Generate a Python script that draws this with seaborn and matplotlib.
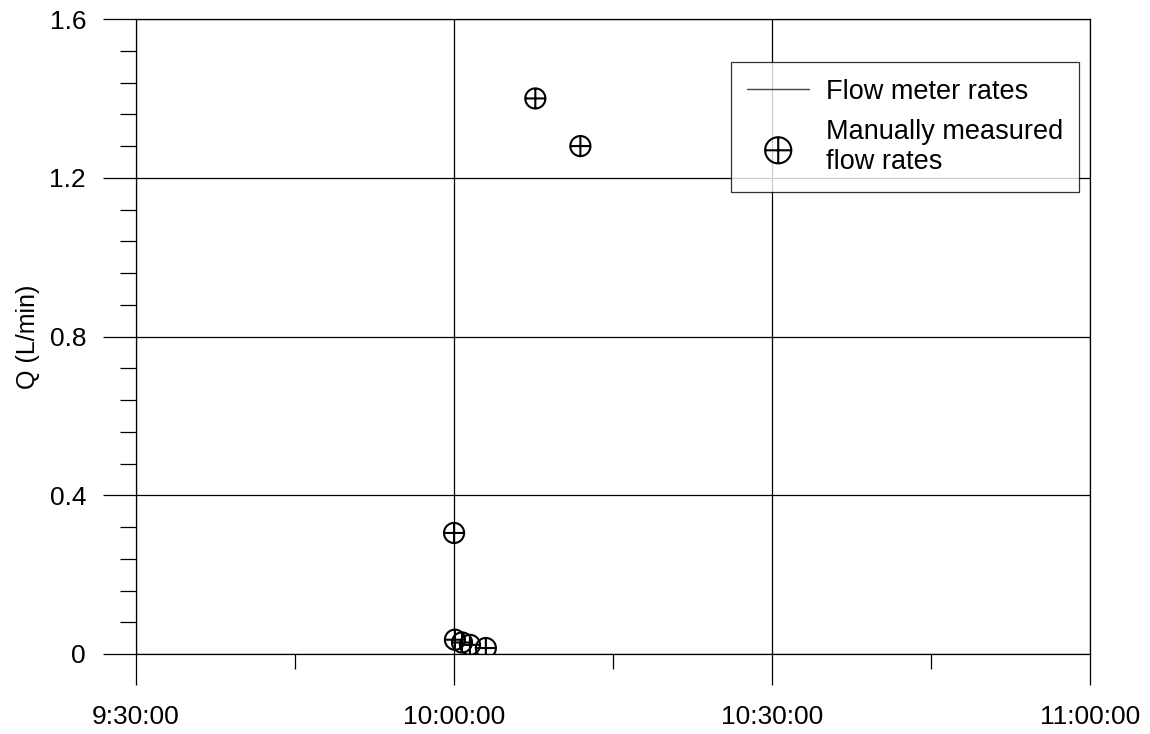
import numpy as np
import pandas as pd
import matplotlib
matplotlib.use("Agg")
import matplotlib.pyplot as plt
import matplotlib.dates as mdates
from matplotlib.path import Path
from matplotlib.ticker import FuncFormatter, MultipleLocator
import seaborn as sns

# Manually measured discharge (time of reading, Q in L/min)
manual_times = ["10:00:00", "10:00:05", "10:00:45", "10:01:30", "10:03:00",
                "10:07:40", "10:11:55"]
manual_q = [0.305, 0.036, 0.029, 0.023, 0.015, 1.40, 1.28]

# Flow meter log (no readings recorded in this window)
meter_times = []
meter_q = []

day = "2000-01-01 "
manual = pd.DataFrame({"time": pd.to_datetime([day + t for t in manual_times]),
                       "Q": manual_q})
meter = pd.DataFrame({"time": pd.to_datetime([day + t for t in meter_times]),
                      "Q": pd.Series(meter_q, dtype=float)})

sns.set_theme(style="white")
plt.rcParams["font.family"] = ["Liberation Sans", "DejaVu Sans"]
plt.rcParams["text.color"] = "black"
plt.rcParams["axes.labelcolor"] = "black"
plt.rcParams["xtick.color"] = "black"
plt.rcParams["ytick.color"] = "black"

fig = plt.figure(figsize=(11.5, 7.34), dpi=100)
ax = fig.add_axes([0.1183, 0.109, 0.8296, 0.865])

# circle-with-cross marker
circ = Path.unit_circle()
hbar = Path([[-1, 0], [1, 0]], [Path.MOVETO, Path.LINETO])
vbar = Path([[0, -1], [0, 1]], [Path.MOVETO, Path.LINETO])
oplus = Path.make_compound_path(circ, hbar, vbar)

ax.plot(meter["time"], meter["Q"], color="#444444", lw=1.0,
        label="Flow meter rates")
sns.scatterplot(data=manual, x="time", y="Q", ax=ax, marker=oplus, s=210,
                facecolors="none", edgecolor="black", linewidth=1.5,
                label="Manually measured\nflow rates", zorder=5)

t0 = pd.Timestamp(day + "09:30:00")
t1 = pd.Timestamp(day + "11:00:00")
ax.set_xlim(t0, t1)
ax.set_ylim(0, 1.6)

ax.xaxis.set_major_locator(mdates.MinuteLocator(byminute=[0, 30]))
ax.xaxis.set_minor_locator(mdates.MinuteLocator(byminute=[15, 45]))

def hms(v, pos=None):
    d = mdates.num2date(v)
    return f"{d.hour}:{d.minute:02d}:{d.second:02d}"

ax.xaxis.set_major_formatter(FuncFormatter(hms))
ax.yaxis.set_major_locator(MultipleLocator(0.4))
ax.yaxis.set_minor_locator(MultipleLocator(0.08))
ax.yaxis.set_major_formatter(FuncFormatter(lambda v, p: "0" if abs(v) < 1e-9 else f"{v:.1f}"))

ax.grid(True, which="major", color="black", linewidth=0.9)
ax.set_axisbelow(True)
for s in ax.spines.values():
    s.set_color("black")
    s.set_linewidth(0.9)

ax.tick_params(axis="both", which="both", direction="out", color="black",
               width=0.9, labelsize=19, left=True, bottom=True)
ax.tick_params(axis="y", which="major", length=24, pad=12)
ax.tick_params(axis="y", which="minor", length=11.5)
ax.tick_params(axis="x", which="major", length=22.5, pad=14)
ax.tick_params(axis="x", which="minor", length=11)

ax.set_xlabel("")
ax.set_ylabel("Q (L/min)", fontsize=18)
ax.yaxis.set_label_coords(-0.101, 0.5)

leg = ax.legend(loc="upper right", bbox_to_anchor=(0.9885, 0.932),
                borderaxespad=0, fontsize=19.5, frameon=True, fancybox=False,
                edgecolor="black", handlelength=2.3, handletextpad=0.6,
                borderpad=0.6, labelspacing=0.55, markerscale=1.3)
leg.get_frame().set_linewidth(0.9)

fig.savefig("out.png", dpi=100, facecolor="white")
